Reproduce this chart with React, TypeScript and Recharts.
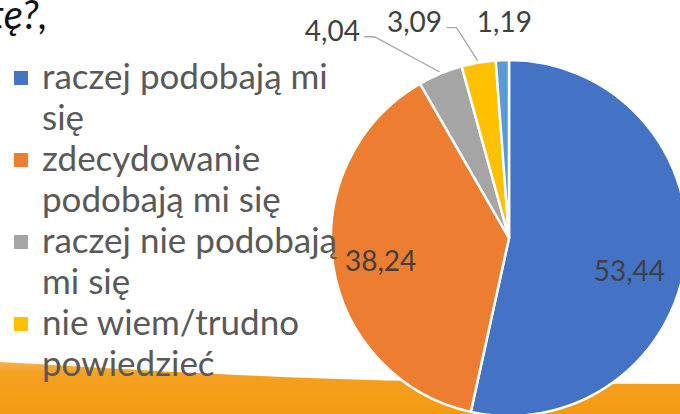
import { PieChart, Pie, Cell } from "recharts";

const categories = [
  "raczej podobają mi się",
  "zdecydowanie podobają mi się",
  "raczej nie podobają mi się",
  "nie wiem/trudno powiedzieć",
  "zdecydowanie nie podobają mi się",
];
const values = [53.44, 38.24, 4.04, 3.09, 1.19];
const colors = ["#4472C4", "#ED7D31", "#A5A5A5", "#FFC000", "#5B9BD5"];

// where each data label sits relative to its slice (r = fraction of radius)
const labelPlacement = [
  { r: 0.68, dx: 0, dy: 19, line: false },
  { r: 0.73, dx: 0, dy: 2, line: false },
  { r: 1, dx: -108, dy: -44, line: true },
  { r: 1, dx: -64, dy: -42, line: true },
  { r: 1, dx: 2, dy: -39, line: false },
];

const RADIAN = Math.PI / 180;
const FONT = "Lato, 'Open Sans', sans-serif";

const data = categories.map((name, i) => ({ name, value: values[i] }));

const renderLabel = (props: any) => {
  const { cx, cy, midAngle, outerRadius, index, value } = props;
  const p = labelPlacement[index];
  const ex = cx + outerRadius * p.r * Math.cos(-midAngle * RADIAN);
  const ey = cy + outerRadius * p.r * Math.sin(-midAngle * RADIAN);
  const tx = ex + p.dx;
  const ty = ey + p.dy;
  const text = value.toFixed(2).replace(".", ",");
  return (
    <g key={`lbl-${index}`}>
      {p.line && (
        <polyline
          points={`${tx + 32},${ty + 7} ${tx + 42},${ty + 7} ${ex - 1},${ey - 2}`}
          fill="none"
          stroke="#A6A6A6"
          strokeWidth={1.3}
        />
      )}
      <text
        x={tx}
        y={ty}
        textAnchor="middle"
        dominantBaseline="central"
        fill="#404040"
        fontSize={28}
        fontFamily={FONT}
      >
        {text}
      </text>
    </g>
  );
};

export default function App() {
  return (
    <div
      style={{
        position: "absolute",
        left: 0,
        top: 0,
        width: 680,
        height: 414,
        overflow: "hidden",
        background: "#fff",
        fontFamily: FONT,
      }}
    >
      <svg width={680} height={414} style={{ position: "absolute", left: 0, top: 0 }}>
        <defs>
          <linearGradient id="swoosh" x1="0" y1="0" x2="0" y2="1">
            <stop offset="0%" stopColor="#F7B04A" />
            <stop offset="25%" stopColor="#F4A020" />
            <stop offset="100%" stopColor="#F29A10" />
          </linearGradient>
        </defs>
        <path
          d="M0,362 C150,370 320,384 680,384 L680,414 L0,414 Z"
          fill="url(#swoosh)"
        />
      </svg>

      {/* tail of the slide title, cropped in the source */}
      <div
        style={{
          position: "absolute",
          left: -10,
          top: -10,
          fontSize: 40,
          fontStyle: "italic",
          color: "#111",
          fontFamily: FONT,
        }}
      >
        tę?,
      </div>

      <div style={{ position: "absolute", left: 0, top: 0 }}>
        <PieChart width={680} height={414}>
          <Pie
            data={data}
            dataKey="value"
            nameKey="name"
            cx={504}
            cy={233}
            outerRadius={178}
            startAngle={90}
            endAngle={-270}
            stroke="#fff"
            strokeWidth={2.5}
            label={renderLabel}
            labelLine={false}
            isAnimationActive={false}
          >
            {data.map((d, i) => (
              <Cell key={d.name} fill={colors[i]} />
            ))}
          </Pie>
        </PieChart>
      </div>

      {/* legend: the last entry is cut off in the source picture */}
      <div style={{ position: "absolute", left: 14, top: 55 }}>
        {categories.slice(0, 4).map((c, i) => (
          <div key={c} style={{ display: "flex", alignItems: "flex-start" }}>
            <div
              style={{
                width: 14,
                height: 14,
                background: colors[i],
                marginTop: 16,
                marginRight: 14,
                flexShrink: 0,
              }}
            />
            <div
              style={{
                width: 312,
                fontSize: 35,
                lineHeight: "41px",
                color: "#595959",
              }}
            >
              {c}
            </div>
          </div>
        ))}
      </div>
    </div>
  );
}
